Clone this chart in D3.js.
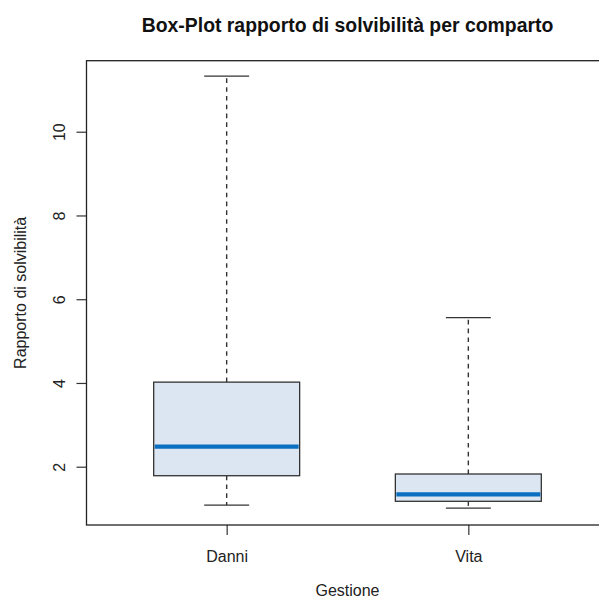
<!DOCTYPE html>
<html>
<head>
<meta charset="utf-8">
<script src="https://cdn.jsdelivr.net/npm/d3@7"></script>
<style>
  body { margin: 0; background: #fff; }
  svg { display: block; font-family: "Liberation Sans", Arial, sans-serif; }
</style>
</head>
<body>
<div id="chart"></div>
<script>
var categories = ["Danni", "Vita"]
var whiskerLow = [1.085, 1.01]
var q1 = [1.785, 1.174]
var medians = [2.48, 1.34]
var q3 = [4.02, 1.826]
var whiskerHigh = [11.33, 5.56]
var yTicks = [2, 4, 6, 8, 10]

var titleText = "Box-Plot rapporto di solvibilità per comparto"
var xLabel = "Gestione"
var yLabel = "Rapporto di solvibilità"

var width = 599, height = 600;
var margin = {top: 60.7, right: -9.5, bottom: 75, left: 86.5};

var svg = d3.select("#chart").append("svg")
  .attr("width", width)
  .attr("height", height);

// R style: boxes at 1..n, range padded by 4%
var x = d3.scaleLinear()
  .domain([0.42, 2.58])
  .range([margin.left, width - margin.right]);

var y = d3.scaleLinear()
  .domain([0.608, 11.696])
  .range([height - margin.bottom, margin.top]);

var boxHalf = 0.302, stapleHalf = 0.093;

var boxes = categories.map(function(c, i) {
  return {name: c, pos: i + 1, lo: whiskerLow[i], q1: q1[i], med: medians[i], q3: q3[i], hi: whiskerHigh[i]};
});

var g = svg.selectAll(".box")
  .data(boxes)
  .enter()
  .append("g")
  .attr("class", "box");

// whiskers
g.append("line")
  .attr("x1", function(d) { return x(d.pos); })
  .attr("x2", function(d) { return x(d.pos); })
  .attr("y1", function(d) { return y(d.q3); })
  .attr("y2", function(d) { return y(d.hi); })
  .attr("stroke", "#333")
  .attr("stroke-width", 1.4)
  .attr("stroke-dasharray", "4.6,4.2");

g.append("line")
  .attr("x1", function(d) { return x(d.pos); })
  .attr("x2", function(d) { return x(d.pos); })
  .attr("y1", function(d) { return y(d.q1); })
  .attr("y2", function(d) { return y(d.lo); })
  .attr("stroke", "#333")
  .attr("stroke-width", 1.4)
  .attr("stroke-dasharray", "4.6,4.2");

// staples
["hi", "lo"].forEach(function(k) {
  g.append("line")
    .attr("x1", function(d) { return x(d.pos - stapleHalf); })
    .attr("x2", function(d) { return x(d.pos + stapleHalf); })
    .attr("y1", function(d) { return y(d[k]); })
    .attr("y2", function(d) { return y(d[k]); })
    .attr("stroke", "#333")
    .attr("stroke-width", 1.3);
});

// box
g.append("rect")
  .attr("x", function(d) { return x(d.pos - boxHalf); })
  .attr("width", function(d) { return x(d.pos + boxHalf) - x(d.pos - boxHalf); })
  .attr("y", function(d) { return y(d.q3); })
  .attr("height", function(d) { return y(d.q1) - y(d.q3); })
  .attr("fill", "#dce6f2")
  .attr("stroke", "#333")
  .attr("stroke-width", 1.3);

// median
g.append("line")
  .attr("x1", function(d) { return x(d.pos - boxHalf) + 1; })
  .attr("x2", function(d) { return x(d.pos + boxHalf) - 1; })
  .attr("y1", function(d) { return y(d.med); })
  .attr("y2", function(d) { return y(d.med); })
  .attr("stroke", "#0b6fc1")
  .attr("stroke-width", 4.2);

// axes
var yAxis = svg.append("g")
  .attr("transform", "translate(" + margin.left + ",0)")
  .call(d3.axisLeft(y).tickValues(yTicks).tickSize(10).tickFormat(d3.format("d")));
yAxis.select(".domain").remove();
yAxis.selectAll(".tick line").attr("stroke", "#333").attr("stroke-width", 1.2);
yAxis.selectAll(".tick text")
  .attr("transform", "rotate(-90)")
  .attr("x", 0)
  .attr("y", -22)
  .attr("dy", null)
  .attr("text-anchor", "middle")
  .attr("font-size", 16)
  .attr("font-family", "Liberation Sans, Arial, sans-serif")
  .attr("fill", "#222");

var xAxis = svg.append("g")
  .attr("transform", "translate(0," + (height - margin.bottom) + ")")
  .call(d3.axisBottom(x).tickValues([1, 2]).tickSize(10).tickFormat(function(d) { return categories[d - 1]; }));
xAxis.select(".domain").remove();
xAxis.selectAll(".tick line").attr("stroke", "#333").attr("stroke-width", 1.2);
xAxis.selectAll(".tick text")
  .attr("y", 37)
  .attr("dy", null)
  .attr("font-size", 16)
  .attr("font-family", "Liberation Sans, Arial, sans-serif")
  .attr("fill", "#222");

// plot frame
svg.append("rect")
  .attr("x", margin.left)
  .attr("y", margin.top)
  .attr("width", x.range()[1] - x.range()[0])
  .attr("height", y.range()[0] - y.range()[1])
  .attr("fill", "none")
  .attr("stroke", "#222")
  .attr("stroke-width", 1.3);

// titles
var cx = (x.range()[0] + x.range()[1]) / 2;
svg.append("text")
  .attr("x", cx)
  .attr("y", 32)
  .attr("text-anchor", "middle")
  .attr("font-size", 19.4)
  .attr("font-weight", "bold")
  .attr("fill", "#111")
  .text(titleText);

svg.append("text")
  .attr("x", cx)
  .attr("y", 596)
  .attr("text-anchor", "middle")
  .attr("font-size", 16)
  .attr("fill", "#222")
  .text(xLabel);

svg.append("text")
  .attr("transform", "translate(26," + ((y.range()[0] + y.range()[1]) / 2) + ") rotate(-90)")
  .attr("text-anchor", "middle")
  .attr("font-size", 16)
  .attr("fill", "#222")
  .text(yLabel);
</script>
</body>
</html>
